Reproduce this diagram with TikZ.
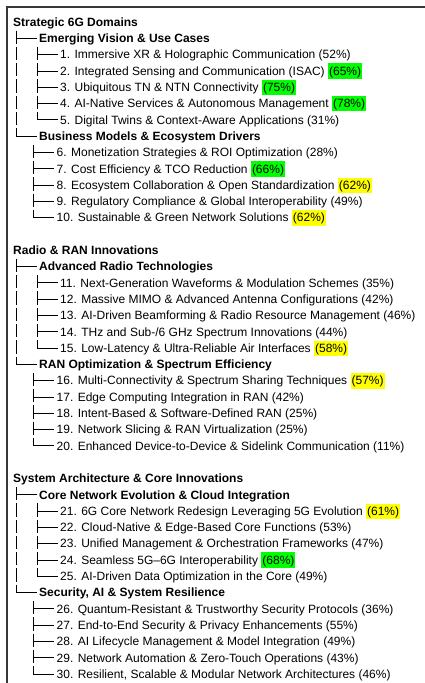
\documentclass[tikz,border=0pt]{standalone}
\usepackage{fontspec}
\setmainfont{Liberation Sans}

\definecolor{hlgreen}{RGB}{0,255,0}
\definecolor{hlyellow}{RGB}{255,255,0}
\definecolor{framegray}{RGB}{55,55,55}

% highlighted shares
\newcommand{\hlg}[1]{{\setlength{\fboxsep}{1pt}\colorbox{hlgreen}{\rule[-2.6pt]{0pt}{13.4pt}#1}}}
\newcommand{\hly}[1]{{\setlength{\fboxsep}{1pt}\colorbox{hlyellow}{\rule[-2.6pt]{0pt}{13.4pt}#1}}}

% tree glyphs: x of the stem, y of the row, target node
\newcommand{\tee}[3]{\draw[branch] (#1,#2-7.8) -- (#1,#2+5.5) (#1,#2) -- (#3.west);}
\newcommand{\corner}[3]{\draw[branch] (#1,#2-7.8) |- (#3.west);}
\newcommand{\pipe}[2]{\draw[branch] (#1,#2-7.8) -- (#1,#2+5.5);}

\tikzset{
  domainbox/.style={anchor=west, inner xsep=2.5pt, inner ysep=0pt, text height=8.6pt, text depth=0pt, font=\bfseries\fontsize{12}{14}\selectfont},
  groupbox/.style={domainbox},
  leafbox/.style={domainbox, font=\fontsize{12}{14}\selectfont},
  branch/.style={line width=0.8pt},
  frame/.style={line width=1.2pt, draw=framegray}
}

\begin{document}
\begin{tikzpicture}[x=1pt, y=-1pt]
\useasboundingbox (0,0) rectangle (425,683);
\draw[frame] (7,683) -- (7,7) -- (425,7);

% Strategic 6G Domains
\node[domainbox] (d1) at (10.5,22) {Strategic 6G Domains};
\node[groupbox] (d1a) at (36.5,38.3) {Emerging Vision \& Use Cases};
\tee{16.5}{38.3}{d1a}
\foreach \txt [count=\k] in {
  {1. Immersive XR \& Holographic Communication (52\%)},
  {2. Integrated Sensing and Communication (ISAC) \hlg{(65\%)}},
  {3. Ubiquitous TN \& NTN Connectivity \hlg{(75\%)}},
  {4. AI-Native Services \& Autonomous Management \hlg{(78\%)}},
  {5. Digital Twins \& Context-Aware Applications (31\%)}} {
  \pgfmathsetmacro\yy{38.3+16.3*\k}
  \node[leafbox] (d1a\k) at (57.5,\yy) {\txt};
  \pipe{16.5}{\yy}
  \ifnum\k<5 \tee{37}{\yy}{d1a\k} \else \corner{37}{\yy}{d1a\k} \fi
}
\node[groupbox] (d1b) at (36.5,136.1) {Business Models \& Ecosystem Drivers};
\corner{16.5}{136.1}{d1b}
\foreach \txt [count=\k] in {
  {6. Monetization Strategies \& ROI Optimization (28\%)},
  {7. Cost Efficiency \& TCO Reduction \hlg{(66\%)}},
  {8. Ecosystem Collaboration \& Open Standardization \hly{(62\%)}},
  {9. Regulatory Compliance \& Global Interoperability (49\%)},
  {10. Sustainable \& Green Network Solutions \hly{(62\%)}}} {
  \pgfmathsetmacro\yy{136.1+16.3*\k}
  \node[leafbox] (d1b\k) at (54,\yy) {\txt};
  \ifnum\k<5 \tee{33.5}{\yy}{d1b\k} \else \corner{33.5}{\yy}{d1b\k} \fi
}

% Radio & RAN Innovations
\node[domainbox] (d2) at (10.5,250.2) {Radio \& RAN Innovations};
\node[groupbox] (d2a) at (36.5,266.5) {Advanced Radio Technologies};
\tee{16.5}{266.5}{d2a}
\foreach \txt [count=\k] in {
  {11. Next-Generation Waveforms \& Modulation Schemes (35\%)},
  {12. Massive MIMO \& Advanced Antenna Configurations (42\%)},
  {13. AI-Driven Beamforming \& Radio Resource Management (46\%)},
  {14. THz and Sub-/6 GHz Spectrum Innovations (44\%)},
  {15. Low-Latency \& Ultra-Reliable Air Interfaces \hly{(58\%)}}} {
  \pgfmathsetmacro\yy{266.5+16.3*\k}
  \node[leafbox] (d2a\k) at (57.5,\yy) {\txt};
  \pipe{16.5}{\yy}
  \ifnum\k<5 \tee{37}{\yy}{d2a\k} \else \corner{37}{\yy}{d2a\k} \fi
}
\node[groupbox] (d2b) at (36.5,364.3) {RAN Optimization \& Spectrum Efficiency};
\corner{16.5}{364.3}{d2b}
\foreach \txt [count=\k] in {
  {16. Multi-Connectivity \& Spectrum Sharing Techniques \hly{(57\%)}},
  {17. Edge Computing Integration in RAN (42\%)},
  {18. Intent-Based \& Software-Defined RAN (25\%)},
  {19. Network Slicing \& RAN Virtualization (25\%)},
  {20. Enhanced Device-to-Device \& Sidelink Communication (11\%)}} {
  \pgfmathsetmacro\yy{364.3+16.3*\k}
  \node[leafbox] (d2b\k) at (54,\yy) {\txt};
  \ifnum\k<5 \tee{33.5}{\yy}{d2b\k} \else \corner{33.5}{\yy}{d2b\k} \fi
}

% System Architecture & Core Innovations
\node[domainbox] (d3) at (10.5,478.4) {System Architecture \& Core Innovations};
\node[groupbox] (d3a) at (36.5,494.7) {Core Network Evolution \& Cloud Integration};
\tee{16.5}{494.7}{d3a}
\foreach \txt [count=\k] in {
  {21. 6G Core Network Redesign Leveraging 5G Evolution \hly{(61\%)}},
  {22. Cloud-Native \& Edge-Based Core Functions (53\%)},
  {23. Unified Management \& Orchestration Frameworks (47\%)},
  {24. Seamless 5G--6G Interoperability \hlg{(68\%)}},
  {25. AI-Driven Data Optimization in the Core (49\%)}} {
  \pgfmathsetmacro\yy{494.7+16.3*\k}
  \node[leafbox] (d3a\k) at (57.5,\yy) {\txt};
  \pipe{16.5}{\yy}
  \ifnum\k<5 \tee{37}{\yy}{d3a\k} \else \corner{37}{\yy}{d3a\k} \fi
}
\node[groupbox] (d3b) at (36.5,592.5) {Security, AI \& System Resilience};
\corner{16.5}{592.5}{d3b}
\foreach \txt [count=\k] in {
  {26. Quantum-Resistant \& Trustworthy Security Protocols (36\%)},
  {27. End-to-End Security \& Privacy Enhancements (55\%)},
  {28. AI Lifecycle Management \& Model Integration (49\%)},
  {29. Network Automation \& Zero-Touch Operations (43\%)},
  {30. Resilient, Scalable \& Modular Network Architectures (46\%)}} {
  \pgfmathsetmacro\yy{592.5+16.3*\k}
  \node[leafbox] (d3b\k) at (54,\yy) {\txt};
  \ifnum\k<5 \tee{33.5}{\yy}{d3b\k} \else \corner{33.5}{\yy}{d3b\k} \fi
}
\end{tikzpicture}
\end{document}
